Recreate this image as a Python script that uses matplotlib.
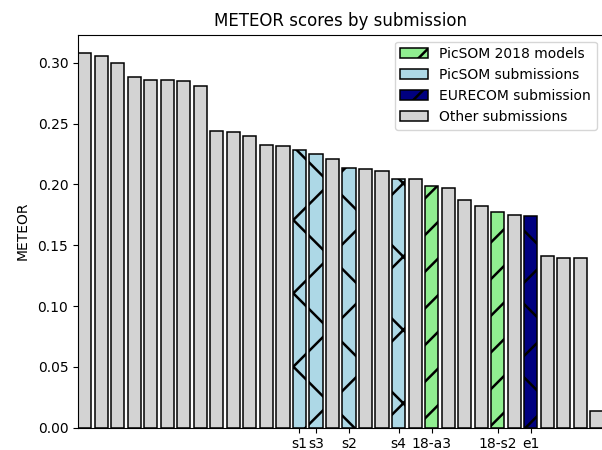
import numpy as np
import matplotlib
matplotlib.use("Agg")
import matplotlib.pyplot as plt
from matplotlib.patches import Patch

# METEOR score of every submission, sorted high to low
scores = [0.3077, 0.3055, 0.3000, 0.2879, 0.2862, 0.2857, 0.2854, 0.2813,
          0.2437, 0.2432, 0.2401, 0.2325, 0.2319, 0.2283, 0.2252, 0.2208,
          0.2137, 0.2130, 0.2111, 0.2047, 0.2042, 0.1990, 0.1968, 0.1875,
          0.1823, 0.1773, 0.1751, 0.1740, 0.1414, 0.1395, 0.1395, 0.0140]
kinds = ["other"] * 13 + ["picsom", "picsom", "other", "picsom", "other",
         "other", "picsom", "other", "picsom18", "other", "other", "other",
         "picsom18", "other", "eurecom", "other", "other", "other", "other"]
tick_pos = [13, 14, 16, 19, 21, 25, 27]
tick_labels = ["s1", "s3", "s2", "s4", "18-a3", "18-s2", "e1"]

legend_kinds = ["picsom18", "picsom", "eurecom", "other"]
legend_labels = ["PicSOM 2018 models", "PicSOM submissions",
                 "EURECOM submission", "Other submissions"]
colors = {"picsom18": "lightgreen", "picsom": "lightblue",
          "eurecom": "navy", "other": "lightgray"}
hatches = {"picsom18": "//", "picsom": "x", "eurecom": "x", "other": None}

# render at a higher dpi so the hatching comes out as coarse as in the original,
# and shrink every point-based size so the rest looks like a 100 dpi figure
DPI = 220
S = 100 / DPI
plt.rcParams.update({
    "font.size": 10 * S,
    "axes.linewidth": 0.8 * S,
    "axes.titlepad": 6 * S,
    "axes.labelpad": 4 * S,
    "xtick.major.size": 3.5 * S,
    "xtick.major.width": 0.8 * S,
    "xtick.major.pad": 3.5 * S,
    "ytick.major.size": 3.5 * S,
    "ytick.major.width": 0.8 * S,
    "ytick.major.pad": 3.5 * S,
    "hatch.linewidth": 1.8 * S,
    "patch.linewidth": 1.0 * S,
})

fig = plt.figure(figsize=(602 / DPI, 450 / DPI), dpi=DPI)
ax = fig.add_axes([78 / 602, 22.3 / 450, 525.5 / 602, 393 / 450])

x = np.arange(len(scores))
for i, (val, kind) in enumerate(zip(scores, kinds)):
    ax.bar(x[i], val, width=0.8, color=colors[kind], edgecolor="black",
           linewidth=1.1 * S, hatch=hatches[kind])

ax.set_xlim(-0.4, len(scores) - 0.6)
ax.set_ylim(0, max(scores) * 1.05)
ax.set_xticks(tick_pos)
ax.set_xticklabels(tick_labels)
ax.set_ylabel("METEOR", labelpad=6 * S)
ax.set_title("METEOR scores by submission")

handles = [Patch(facecolor=colors[k], edgecolor="black", linewidth=1.1 * S,
                 hatch=hatches[k], label=l)
           for k, l in zip(legend_kinds, legend_labels)]
ax.legend(handles=handles, loc="upper right")

fig.savefig("out.png", dpi=DPI)
